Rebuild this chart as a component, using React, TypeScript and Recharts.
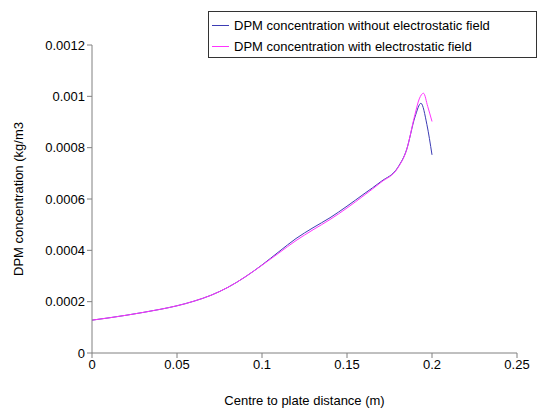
import { LineChart, Line, XAxis, YAxis } from "recharts";

// distance from centre (m)
const distNoField = [
  0, 0.01, 0.02, 0.03, 0.04, 0.05, 0.06, 0.07, 0.08, 0.09, 0.1, 0.11, 0.12,
  0.13, 0.14, 0.15, 0.16, 0.17, 0.18, 0.185, 0.19, 0.1935, 0.197, 0.2,
];
const concNoField = [
  0.000128, 0.000137, 0.000147, 0.000158, 0.00017, 0.000184, 0.000202,
  0.000225, 0.000256, 0.000296, 0.000343, 0.000395, 0.000446, 0.000488,
  0.000527, 0.000572, 0.00062, 0.000668, 0.000724, 0.000791, 0.00092,
  0.000973, 0.00089, 0.000772,
];

const distField = [
  0, 0.01, 0.02, 0.03, 0.04, 0.05, 0.06, 0.07, 0.08, 0.09, 0.1, 0.11, 0.12,
  0.13, 0.14, 0.15, 0.16, 0.17, 0.18, 0.185, 0.19, 0.1925, 0.195, 0.1975, 0.2,
];
const concField = [
  0.000128, 0.000137, 0.000147, 0.000158, 0.00017, 0.000184, 0.000202,
  0.000225, 0.000256, 0.000296, 0.000342, 0.00039, 0.000438, 0.00048, 0.00052,
  0.000565, 0.000614, 0.000665, 0.000722, 0.00079, 0.00093, 0.00099, 0.001012,
  0.00096, 0.000902,
];

const seriesNames = [
  "DPM concentration without electrostatic field",
  "DPM concentration with electrostatic field",
];
const seriesColors = ["#3c3cb4", "#ff33ff"];

const xTicks = [0, 0.05, 0.1, 0.15, 0.2, 0.25];
const yTicks = [0, 0.0002, 0.0004, 0.0006, 0.0008, 0.001, 0.0012];

const noField = distNoField.map((x, i) => ({ x, y: concNoField[i] }));
const withField = distField.map((x, i) => ({ x, y: concField[i] }));

const font = "'Liberation Sans', Arial, sans-serif";

// boxed legend in the top right, drawn over the chart like Excel does
const LegendBox = () => (
  <div
    style={{
      position: "absolute",
      left: 208,
      top: 11,
      border: "1px solid #333",
      background: "#fff",
      width: 329,
      height: 47,
      boxSizing: "border-box",
      padding: "3px 0 0 3px",
      fontFamily: font,
      fontSize: 13,
      color: "#000",
    }}
  >
    {seriesNames.map((name, i) => (
      <div key={name} style={{ display: "flex", alignItems: "center", height: 21 }}>
        <span
          style={{
            display: "inline-block",
            width: 17,
            height: 1,
            background: seriesColors[i],
            marginRight: 5,
          }}
        />
        {name}
      </div>
    ))}
  </div>
);

export default function App() {
  return (
    <div style={{ position: "absolute", left: 0, top: 0, background: "#fff" }}>
      <LineChart
        width={541}
        height={410}
        margin={{ top: 45, right: 24, bottom: 0, left: 0 }}
      >
        <XAxis
          type="number"
          dataKey="x"
          domain={[0, 0.25]}
          ticks={xTicks}
          height={57}
          stroke="#808080"
          tickSize={5}
          tick={{ fill: "#000", fontSize: 13, fontFamily: font }}
          label={{
            value: "Centre to plate distance (m)",
            position: "insideBottom",
            offset: 5,
            fill: "#000",
            fontSize: 13,
            fontFamily: font,
          }}
          allowDuplicatedCategory={false}
        />
        <YAxis
          type="number"
          dataKey="y"
          domain={[0, 0.0012]}
          ticks={yTicks}
          width={92}
          stroke="#808080"
          tickSize={5}
          tick={{ fill: "#000", fontSize: 13, fontFamily: font }}
          label={{
            value: "DPM concentration (kg/m3",
            angle: -90,
            position: "insideLeft",
            offset: 18,
            fill: "#000",
            fontSize: 13,
            fontFamily: font,
            style: { textAnchor: "middle" },
          }}
        />
        <Line
          data={noField}
          dataKey="y"
          name={seriesNames[0]}
          type="monotone"
          stroke={seriesColors[0]}
          strokeWidth={1}
          dot={false}
          isAnimationActive={false}
        />
        <Line
          data={withField}
          dataKey="y"
          name={seriesNames[1]}
          type="monotone"
          stroke={seriesColors[1]}
          strokeWidth={1}
          dot={false}
          isAnimationActive={false}
        />
      </LineChart>
      <LegendBox />
    </div>
  );
}
